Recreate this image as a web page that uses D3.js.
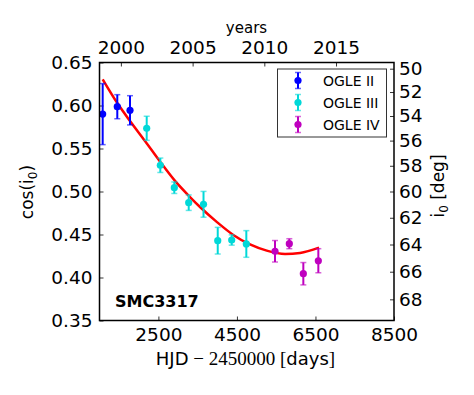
<!DOCTYPE html>
<html>
<head>
<meta charset="utf-8">
<script src="https://cdn.jsdelivr.net/npm/d3@7"></script>
<style>
  body { margin: 0; background: #fff; }
  text { font-family: "DejaVu Sans", sans-serif; fill: #000; }
</style>
</head>
<body>
<div id="chart"></div>
<script>
// measurements, HJD - 2450000 and cos(i0)
var ogle2Hjd = [1081, 1453, 1777];
var ogle2Cos = [0.590, 0.5986, 0.5944];
var ogle2Err = [0.0355, 0.014, 0.017];

var ogle3Hjd = [2202, 2549, 2905, 3272, 3649, 4011, 4367, 4739];
var ogle3Cos = [0.5735, 0.5305, 0.5044, 0.4870, 0.4851, 0.4428, 0.4436, 0.4390];
var ogle3Err = [0.014, 0.0084, 0.0067, 0.009, 0.015, 0.0155, 0.006, 0.0155];

var ogle4Hjd = [5470, 5834, 6191, 6573];
var ogle4Cos = [0.4305, 0.4393, 0.4044, 0.4195];
var ogle4Err = [0.0125, 0.0058, 0.013, 0.014];

// fitted model (red line)
var fitHjd = [1081, 1453, 1777, 2159, 2549, 2923, 3305, 3560, 3985, 4408, 4833, 5259, 5725, 6108, 6591];
var fitCos = [0.6305, 0.6029, 0.5820, 0.5587, 0.5343, 0.5123, 0.4936, 0.4820, 0.4647, 0.4495, 0.4384, 0.4312, 0.4273, 0.4285, 0.4347];

var xTicks = [2500, 4500, 6500, 8500];
var yTicks = [0.35, 0.40, 0.45, 0.50, 0.55, 0.60, 0.65];
var yearTicks = [2000, 2005, 2010, 2015];
var degTicks = [50, 52, 54, 56, 58, 60, 62, 64, 66, 68];

var series = [
  {name: "OGLE II", color: "#0000ff", hjd: ogle2Hjd, cos: ogle2Cos, err: ogle2Err},
  {name: "OGLE III", color: "#00d8d8", hjd: ogle3Hjd, cos: ogle3Cos, err: ogle3Err},
  {name: "OGLE IV", color: "#bf00bf", hjd: ogle4Hjd, cos: ogle4Cos, err: ogle4Err}
];

var renderChart = function() {
  var W = 474, H = 395;
  var pLeft = 99.5, pRight = 394, pTop = 62.5, pBottom = 320.5;

  var svg = d3.select("#chart").append("svg")
    .attr("width", W).attr("height", H);

  var x = d3.scaleLinear().domain([1000, 8500]).range([pLeft, pRight]);
  var y = d3.scaleLinear().domain([0.35, 0.65]).range([pBottom, pTop]);

  // JD 2450000 = 1995-10-09 12:00 UTC
  var jd0 = Date.UTC(1995, 9, 9, 12);
  var yearToHjd = function(yr) { return (Date.UTC(yr, 0, 1) - jd0) / 86400000; };
  var degToCos = function(d) { return Math.cos(d * Math.PI / 180); };

  // axes, ticks pointing inward
  var tickLen = 4;
  var bottomAxis = d3.axisBottom(x).tickValues(xTicks).tickSize(-tickLen).tickPadding(7).tickFormat(d3.format("d"));
  var leftAxis = d3.axisLeft(y).tickValues(yTicks).tickSize(-tickLen).tickPadding(7).tickFormat(d3.format(".2f"));
  var topAxis = d3.axisTop(x).tickValues(yearTicks.map(yearToHjd)).tickSize(-tickLen).tickPadding(9)
    .tickFormat(function(d, i) { return yearTicks[i]; });
  var rightAxis = d3.axisRight(y).tickValues(degTicks.map(degToCos)).tickSize(-tickLen).tickPadding(5)
    .tickFormat(function(d, i) { return degTicks[i]; });

  function styleAxis(g) {
    g.select(".domain").remove();
    g.selectAll(".tick line").attr("stroke", "#000").attr("stroke-width", 0.8);
    g.selectAll(".tick text").style("font-size", "18.5px").attr("fill", "#000");
  }

  svg.append("g").attr("transform", "translate(0," + pBottom + ")").call(bottomAxis).call(styleAxis);
  svg.append("g").attr("transform", "translate(" + pLeft + ",0)").call(leftAxis).call(styleAxis);
  svg.append("g").attr("transform", "translate(0," + pTop + ")").call(topAxis).call(styleAxis);
  svg.append("g").attr("transform", "translate(" + pRight + ",0)").call(rightAxis).call(styleAxis);

  // fit line
  var line = d3.line()
    .x(function(d) { return x(d[0]); })
    .y(function(d) { return y(d[1]); })
    .curve(d3.curveMonotoneX);

  svg.append("path")
    .datum(fitHjd.map(function(h, i) { return [h, fitCos[i]]; }))
    .attr("d", line)
    .attr("fill", "none")
    .attr("stroke", "#ff0000")
    .attr("stroke-width", 2.5);

  // error bars + points
  var capW = 3;
  series.forEach(function(s) {
    var pts = s.hjd.map(function(h, i) { return {h: h, c: s.cos[i], e: s.err[i]}; });
    var g = svg.append("g");
    g.selectAll("line.bar").data(pts).enter().append("line")
      .attr("x1", function(d) { return x(d.h); })
      .attr("x2", function(d) { return x(d.h); })
      .attr("y1", function(d) { return y(d.c + d.e); })
      .attr("y2", function(d) { return y(d.c - d.e); })
      .attr("stroke", s.color).attr("stroke-width", 2);
    [1, -1].forEach(function(sign) {
      g.selectAll("line.cap" + sign).data(pts).enter().append("line")
        .attr("x1", function(d) { return x(d.h) - capW; })
        .attr("x2", function(d) { return x(d.h) + capW; })
        .attr("y1", function(d) { return y(d.c + sign * d.e); })
        .attr("y2", function(d) { return y(d.c + sign * d.e); })
        .attr("stroke", s.color).attr("stroke-width", 1.5).attr("opacity", 0.6);
    });
    g.selectAll("circle").data(pts).enter().append("circle")
      .attr("cx", function(d) { return x(d.h); })
      .attr("cy", function(d) { return y(d.c); })
      .attr("r", 3.6)
      .attr("fill", s.color);
  });

  // frame
  svg.append("rect")
    .attr("x", pLeft).attr("y", pTop)
    .attr("width", pRight - pLeft).attr("height", pBottom - pTop)
    .attr("fill", "none").attr("stroke", "#000").attr("stroke-width", 1.5);

  // legend
  var legend = svg.append("g");
  legend.append("rect")
    .attr("x", 277.5).attr("y", 69).attr("width", 109).attr("height", 68)
    .attr("fill", "#fff").attr("stroke", "#333").attr("stroke-width", 1);
  series.forEach(function(s, i) {
    var cy = 80.5 + i * 22;
    legend.append("line").attr("x1", 298).attr("x2", 298).attr("y1", cy - 8).attr("y2", cy + 8)
      .attr("stroke", s.color).attr("stroke-width", 2);
    [-8, 8].forEach(function(o) {
      legend.append("line").attr("x1", 295).attr("x2", 301).attr("y1", cy + o).attr("y2", cy + o)
        .attr("stroke", s.color).attr("stroke-width", 1.5).attr("opacity", 0.6);
    });
    legend.append("circle").attr("cx", 298).attr("cy", cy).attr("r", 3.6).attr("fill", s.color);
    legend.append("text").attr("x", 323).attr("y", cy + 5).style("font-size", "14px").text(s.name);
  });

  // labels
  svg.append("text").attr("x", 246.5).attr("y", 33).attr("text-anchor", "middle")
    .style("font-size", "15px").text("years");

  svg.append("text").attr("x", 115).attr("y", 306.5)
    .style("font-size", "16px").style("font-weight", "bold").text("SMC3317");

  var serif = "'Liberation Serif', 'DejaVu Serif', serif";
  var xl = svg.append("text").attr("x", 245.5).attr("y", 365).attr("text-anchor", "middle").style("font-size", "18px");
  xl.append("tspan").text("HJD");
  xl.append("tspan").style("font-family", serif).style("font-size", "19px").text(" \u2212 2450000 [");
  xl.append("tspan").text("days");
  xl.append("tspan").style("font-family", serif).style("font-size", "19px").text("]");

  var yl = svg.append("text").attr("transform", "translate(33,192) rotate(-90)")
    .attr("text-anchor", "middle").style("font-size", "17px");
  yl.append("tspan").text("cos(i");
  yl.append("tspan").attr("dy", 4).style("font-size", "12px").text("0");
  yl.append("tspan").attr("dy", -4).text(")");

  var rl = svg.append("text").attr("transform", "translate(444,186) rotate(-90)")
    .attr("text-anchor", "middle").style("font-size", "17px");
  rl.append("tspan").text("i");
  rl.append("tspan").attr("dy", 4).style("font-size", "12px").text("0");
  rl.append("tspan").attr("dy", -4).text(" [deg]");
};

renderChart();
</script>
</body>
</html>
